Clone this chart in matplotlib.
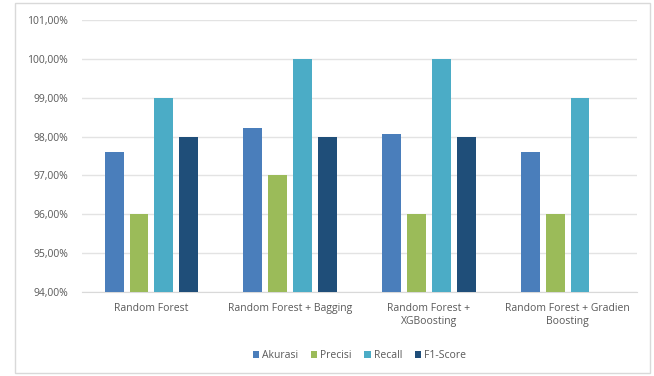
import matplotlib.pyplot as plt
import numpy as np
from matplotlib.patches import Rectangle

# Data
categories = ["Random Forest", "Random Forest + Bagging",
              "Random Forest +\nXGBoosting", "Random Forest + Gradien\nBoosting"]
akurasi = [97.6, 98.22, 98.07, 97.6]
precisi = [96.0, 97.0, 96.0, 96.0]
recall = [99.0, 100.0, 100.0, 99.0]
f1_score = [98.0, 98.0, 98.0, np.nan]
series_names = ["Akurasi", "Precisi", "Recall", "F1-Score"]
y_ticks = [94, 95, 96, 97, 98, 99, 100, 101]

colors = ["#4a7ebb", "#9bbb59", "#4bacc6", "#1f4e79"]
text_color = "#595959"

plt.rcParams['font.family'] = ['Open Sans', 'DejaVu Sans']

fig = plt.figure(figsize=(6.54, 3.76), dpi=100)
ax = fig.add_axes([82 / 654, 1 - 292 / 376, (637 - 82) / 654, (292 - 20) / 376])

# outer chart border
fig.patches.append(Rectangle((15 / 654, 3 / 376), 635 / 654, 370 / 376,
                             transform=fig.transFigure, fill=False,
                             edgecolor="#d9d9d9", linewidth=1))

x = np.arange(len(categories))
width = 0.136
step = 0.179
all_series = [akurasi, precisi, recall, f1_score]
for i, (vals, name) in enumerate(zip(all_series, series_names)):
    offs = (i - 1.5) * step
    ax.bar(x + offs, np.array(vals) - 94, width, bottom=94,
           color=colors[i], label=name, zorder=3)

ax.set_xlim(-0.5, len(categories) - 0.5)
ax.set_ylim(94, 101)
ax.set_yticks(y_ticks)
ax.set_yticklabels([("%.2f%%" % v).replace(".", ",") for v in y_ticks])
ax.set_xticks(x)
ax.set_xticklabels(categories)
ax.grid(axis="y", color="#e3e3e3", linewidth=1, zorder=0)
for s in ["top", "right", "left"]:
    ax.spines[s].set_visible(False)
ax.spines["bottom"].set_color("#d9d9d9")
ax.tick_params(axis="both", length=0, colors=text_color, labelsize=7.5)
ax.tick_params(axis="x", pad=8)
ax.tick_params(axis="y", pad=10)

ax.legend(loc="center", bbox_to_anchor=(0.5, -0.235), ncol=4, frameon=False,
          fontsize=7.5, labelcolor=text_color, handlelength=0.6,
          handleheight=0.6, handletextpad=0.3, columnspacing=1.2)

fig.savefig("out.png", dpi=100)
